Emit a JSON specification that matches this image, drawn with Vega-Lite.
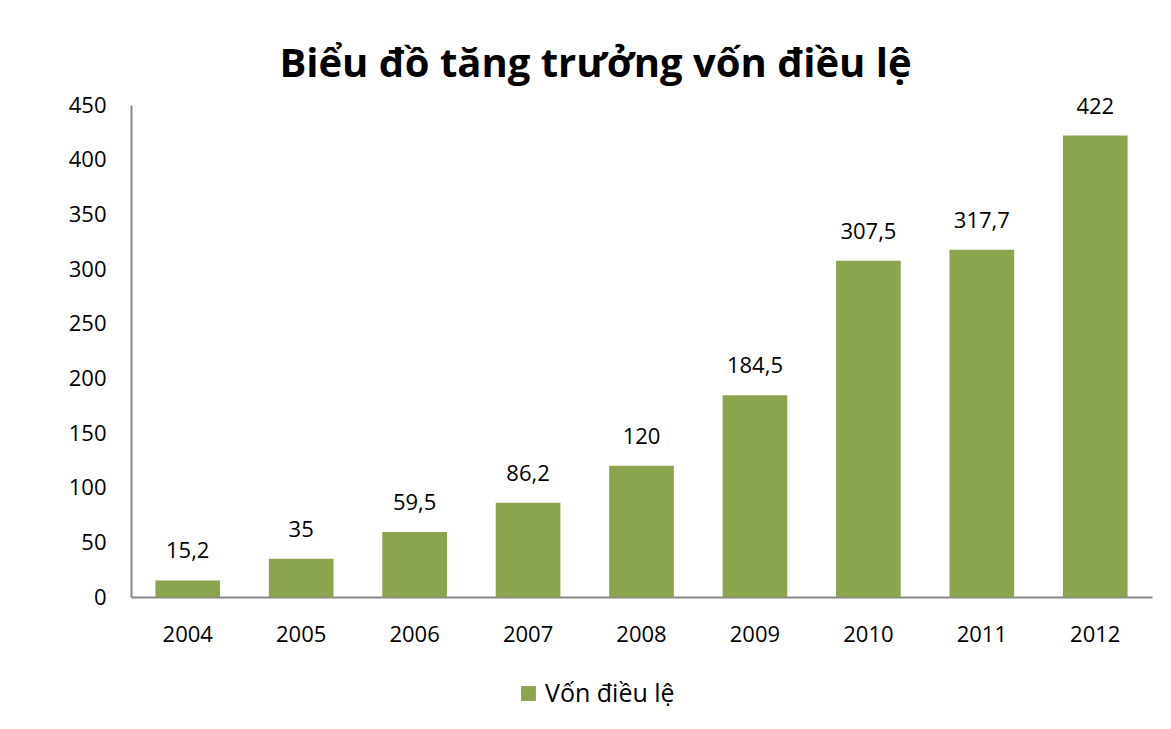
{
  "$schema": "https://vega.github.io/schema/vega-lite/v6.json",
  "width": 1021,
  "height": 492,
  "autosize": {"type": "none"},
  "padding": {"left": 131, "top": 105, "right": 19, "bottom": 132},
  "background": "white",
  "config": {
    "view": {"stroke": null},
    "font": "Open Sans",
    "locale": {"number": {"decimal": ",", "thousands": ".", "grouping": [3], "currency": ["", ""]}}
  },
  "title": {
    "text": "Biểu đồ tăng trưởng vốn điều lệ",
    "font": "Open Sans",
    "fontSize": 40,
    "fontWeight": "bold",
    "color": "black",
    "anchor": "middle",
    "dx": -46,
    "offset": 9
  },
  "data": {
    "values": [
      {"year": "2004", "value": 15.2},
      {"year": "2005", "value": 35},
      {"year": "2006", "value": 59.5},
      {"year": "2007", "value": 86.2},
      {"year": "2008", "value": 120},
      {"year": "2009", "value": 184.5},
      {"year": "2010", "value": 307.5},
      {"year": "2011", "value": 317.7},
      {"year": "2012", "value": 422}
    ]
  },
  "encoding": {
    "x": {
      "field": "year", "type": "ordinal",
      "scale": {"paddingInner": 0.43, "paddingOuter": 0.215},
      "axis": {"title": null, "labelAngle": 0, "ticks": false, "domainColor": "#888888", "domainWidth": 2, "labelFontSize": 22, "labelColor": "black", "labelPadding": 27, "labelFont": "Open Sans"}
    },
    "y": {
      "field": "value", "type": "quantitative",
      "scale": {"domain": [0, 450], "nice": false},
      "axis": {"title": null, "values": [0, 50, 100, 150, 200, 250, 300, 350, 400, 450], "grid": false, "ticks": false, "domainColor": "#888888", "domainWidth": 2, "labelFontSize": 22, "labelColor": "black", "labelPadding": 25, "labelFont": "Open Sans", "format": "d"}
    }
  },
  "layer": [
    {
      "mark": {"type": "bar", "color": "#8ba54f"},
      "encoding": {
        "color": {
          "datum": "Vốn điều lệ",
          "scale": {"range": ["#8ba54f"]},
          "legend": {"title": null, "orient": "none", "legendX": 385, "legendY": 576, "symbolType": "square", "symbolSize": 220, "symbolStrokeWidth": 0, "labelFontSize": 25, "labelColor": "black", "labelFont": "Open Sans", "labelOffset": 4}
        }
      }
    },
    {
      "mark": {"type": "text", "baseline": "bottom", "dy": -17, "fontSize": 22, "color": "black", "font": "Open Sans"},
      "encoding": {
        "text": {"field": "value", "type": "quantitative", "format": "~g"}
      }
    }
  ]
}
